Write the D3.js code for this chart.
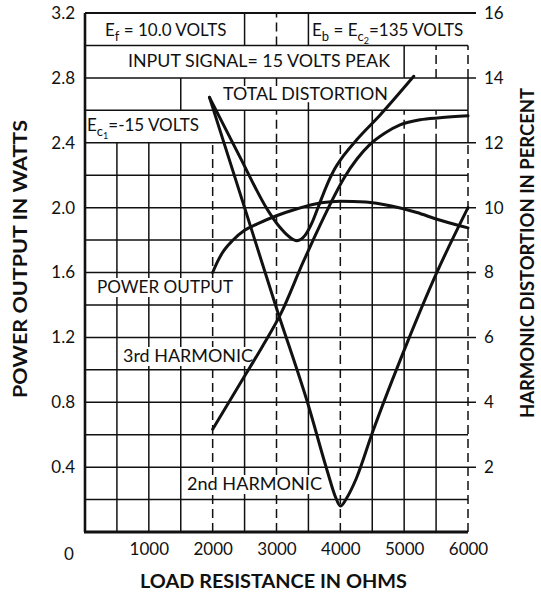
<!DOCTYPE html>
<html>
<head>
<meta charset="utf-8">
<script src="https://cdn.jsdelivr.net/npm/d3@7"></script>
<style>
  body { margin: 0; background: #fff; }
  svg { display: block; }
  text { font-family: Lato, "DejaVu Sans", sans-serif; fill: #111; }
</style>
</head>
<body>
<svg id="chart" width="541" height="594"></svg>
<script>
// ---- Data (load resistance in ohms; power in watts; distortion in percent) ----
const powerOhms  = [2000, 2080, 2150, 2320, 2500, 2700, 3000, 3300, 3700, 4000, 4400, 4800, 5200, 5500, 6000];
const powerWatts = [1.60, 1.67, 1.72, 1.80, 1.86, 1.90, 1.95, 1.99, 2.03, 2.04, 2.035, 2.01, 1.97, 1.93, 1.875];

const totalOhms = [1950, 2430, 2870, 3050, 3200, 3320, 3450, 3560, 3660, 3780, 3900, 4050, 4260, 4620, 5150];
const totalPct  = [13.4, 11.55, 9.9, 9.4, 9.1, 8.98, 9.15, 9.55, 10.05, 10.65, 11.15, 11.6, 12.1, 12.85, 14.05];

const secondOhms = [1950, 2500, 3000, 3500, 3800, 3920, 4000, 4100, 4250, 4500, 5040, 5500, 6000];
const secondPct  = [13.4, 10.0, 6.9, 3.9, 1.85, 1.1, 0.8, 1.05, 1.65, 3.05, 5.8, 7.95, 10.0];

const thirdOhms = [2000, 2430, 2770, 3070, 3415, 3600, 3790, 3930, 4070, 4260, 4465, 4700, 4935, 5250, 5560, 6000];
const thirdPct  = [3.17, 4.58, 5.69, 6.74, 8.31, 9.11, 9.9, 10.45, 10.95, 11.5, 11.95, 12.3, 12.55, 12.71, 12.77, 12.83];

const xTicks      = [1000, 2000, 3000, 4000, 5000, 6000];
const leftTicks   = [0.4, 0.8, 1.2, 1.6, 2.0, 2.4, 2.8, 3.2];
const rightTicks  = [2, 4, 6, 8, 10, 12, 14, 16];

// ---- Scales ----
const x  = d3.scaleLinear().domain([0, 6000]).range([85, 468]);
const yL = d3.scaleLinear().domain([0, 3.2]).range([532, 13]);
const yR = d3.scaleLinear().domain([0, 16]).range([532, 13]);

const svg = d3.select("#chart");
svg.append("rect").attr("width", 541).attr("height", 594).attr("fill", "#fff");

// ---- Grid ----
const grid = svg.append("g").attr("stroke", "#111").attr("fill", "none");

// horizontal rules every 0.2 W; the labelled ones run out as ticks on the right
d3.range(1, 17).forEach(i => {
  const w = i * 0.2;
  const labelled = i % 2 === 0;
  grid.append("line")
    .attr("x1", x(0)).attr("x2", labelled ? x(6000) + 8 : x(6000))
    .attr("y1", yL(w)).attr("y2", yL(w))
    .attr("stroke-width", i === 16 ? 2.2 : 1.5);
});

// vertical rules: [ohms, from W, to W, dashed]
const vSegments = [
  [2500, 3.0, 3.2, 0], [3000, 3.0, 3.2, 1], [3500, 3.0, 3.2, 0],
  [5000, 2.8, 3.0, 0], [5500, 2.8, 3.0, 1], [6000, 2.8, 3.0, 1],
  [1500, 2.6, 2.8, 0], [2500, 2.75, 2.8, 0], [3000, 2.75, 2.8, 0], [3500, 2.6, 2.65, 0], [6000, 2.6, 2.8, 0],
  [2500, 2.4, 2.6, 0], [3000, 2.4, 2.6, 1], [3500, 2.4, 2.6, 0], [4500, 2.4, 2.6, 0],
  [5000, 2.4, 2.6, 1], [5500, 2.4, 2.6, 1], [6000, 2.4, 2.6, 0]
];
const dashedLow = [2000, 3000, 4000, 6000];
d3.range(500, 6001, 500).forEach(o => vSegments.push([o, 0, 2.4, dashedLow.includes(o) ? 1 : 0]));

vSegments.forEach(([o, a, b, dashed]) => {
  grid.append("line")
    .attr("x1", x(o)).attr("x2", x(o))
    .attr("y1", yL(a)).attr("y2", yL(b))
    .attr("stroke-width", 1.5)
    .attr("stroke-dasharray", dashed ? "9,5" : null);
});

// axes frame
grid.append("line").attr("x1", x(0)).attr("x2", x(0)).attr("y1", yL(3.2)).attr("y2", yL(0)).attr("stroke-width", 2.6);
grid.append("line").attr("x1", x(0) - 1).attr("x2", x(6000)).attr("y1", yL(0)).attr("y2", yL(0)).attr("stroke-width", 3);

// ---- Curve labels with cleared background ----
function label(txt, x0, x1, base) {
  svg.append("rect").attr("x", x0 - 4).attr("y", base - 15).attr("width", x1 - x0 + 8).attr("height", 19).attr("fill", "#fff");
  svg.append("text").attr("x", x0).attr("y", base).attr("font-size", 17)
    .attr("textLength", x1 - x0).attr("lengthAdjust", "spacingAndGlyphs").text(txt);
}
label("POWER OUTPUT", 97, 233, 293);
label("3rd HARMONIC", 123, 253, 362);
label("2nd HARMONIC", 187, 322, 490);

// ---- Curves ----
const curves = svg.append("g").attr("fill", "none").attr("stroke", "#111")
  .attr("stroke-width", 3).attr("stroke-linejoin", "round").attr("stroke-linecap", "round");

const linePct = (xs, ys) => d3.line().x((d, i) => x(xs[i])).y((d, i) => yR(ys[i])).curve(d3.curveMonotoneX)(xs);
const lineW   = (xs, ys) => d3.line().x((d, i) => x(xs[i])).y((d, i) => yL(ys[i])).curve(d3.curveMonotoneX)(xs);

curves.append("path").attr("d", lineW(powerOhms, powerWatts));
curves.append("path").attr("d", linePct(totalOhms, totalPct));
curves.append("path").attr("d", linePct(secondOhms, secondPct));
curves.append("path").attr("d", linePct(thirdOhms, thirdPct));

// ---- Axes labels ----
const axL = svg.append("g").attr("transform", `translate(${x(0)},0)`)
  .call(d3.axisLeft(yL).tickValues(leftTicks).tickFormat(d3.format(".1f")).tickSize(0).tickPadding(10));
const axR = svg.append("g").attr("transform", `translate(${x(6000)},0)`)
  .call(d3.axisRight(yR).tickValues(rightTicks).tickFormat(d3.format("d")).tickSize(0).tickPadding(16));
const axB = svg.append("g").attr("transform", `translate(0,${yL(0)})`)
  .call(d3.axisBottom(x).tickValues(xTicks).tickFormat(d3.format("d")).tickSize(0).tickPadding(11));
[axL, axR, axB].forEach(g => {
  g.select(".domain").remove();
  g.selectAll("text").attr("font-size", 17).attr("fill", "#111")
    .style("font-family", "Lato, 'DejaVu Sans', sans-serif");
});
svg.append("text").attr("x", 69).attr("y", 560).attr("text-anchor", "middle").attr("font-size", 17).text("0");

// ---- Axis titles ----
svg.append("text").attr("x", 140).attr("y", 588).attr("font-size", 19).attr("font-weight", 700)
  .attr("textLength", 267).attr("lengthAdjust", "spacingAndGlyphs").text("LOAD RESISTANCE IN OHMS");
svg.append("text").attr("transform", "translate(27,398) rotate(-90)").attr("font-size", 19).attr("font-weight", 700)
  .attr("textLength", 278).attr("lengthAdjust", "spacingAndGlyphs").text("POWER OUTPUT IN WATTS");
svg.append("text").attr("transform", "translate(534,418) rotate(-90)").attr("font-size", 19).attr("font-weight", 700)
  .attr("textLength", 330).attr("lengthAdjust", "spacingAndGlyphs").text("HARMONIC DISTORTION IN PERCENT");

// ---- Operating conditions ----
const notes = svg.append("g").attr("font-size", 17);

const ef = notes.append("text").attr("x", 105).attr("y", 36);
ef.append("tspan").text("E");
ef.append("tspan").attr("font-size", 13).attr("dy", 5).text("f");
ef.append("tspan").attr("dy", -5).text(" = 10.0 VOLTS");

const eb = notes.append("text").attr("x", 312).attr("y", 36);
eb.append("tspan").text("E");
eb.append("tspan").attr("font-size", 13).attr("dy", 5).text("b");
eb.append("tspan").attr("dy", -5).text(" = E");
eb.append("tspan").attr("font-size", 13).attr("dy", 5).text("c");
eb.append("tspan").attr("font-size", 9).attr("dy", 3).text("2");
eb.append("tspan").attr("dy", -8).text("=135 VOLTS");

notes.append("text").attr("x", 128).attr("y", 67)
  .attr("textLength", 262).attr("lengthAdjust", "spacingAndGlyphs").text("INPUT SIGNAL= 15 VOLTS PEAK");
notes.append("text").attr("x", 223).attr("y", 100)
  .attr("textLength", 165).attr("lengthAdjust", "spacingAndGlyphs").text("TOTAL DISTORTION");

const ec = notes.append("text").attr("x", 87).attr("y", 131);
ec.append("tspan").text("E");
ec.append("tspan").attr("font-size", 13).attr("dy", 5).text("c");
ec.append("tspan").attr("font-size", 9).attr("dy", 3).text("1");
ec.append("tspan").attr("dy", -8).text("=-15 VOLTS");
</script>
</body>
</html>
